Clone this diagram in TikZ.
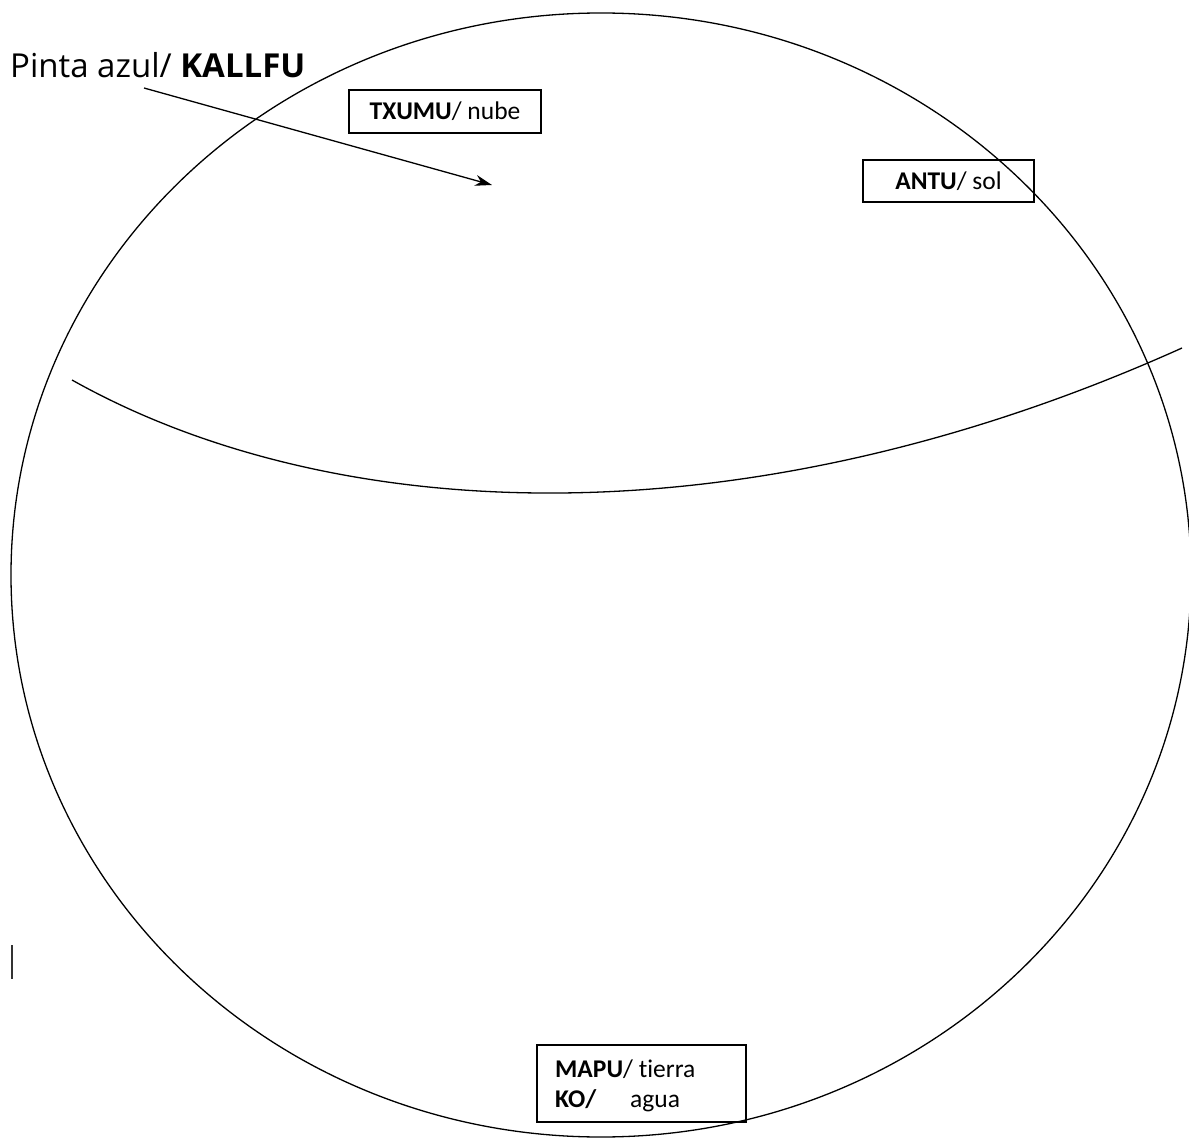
\documentclass[tikz,border=0pt]{standalone}
\usepackage{fontspec}
\setmainfont{Carlito}[Ligatures={NoCommon,NoRare,NoDiscretionary}]
\newfontfamily\handfont{Open Sans}
\usetikzlibrary{arrows.meta}
\tikzset{
  line/.style={draw=black, line width=1.3pt},
  labelbox/.style={draw=black, line width=1.5pt, inner sep=0pt, font=\fontsize{25.5}{30}\selectfont},
}
\begin{document}
\begin{tikzpicture}[x=1pt,y=-1pt]
\useasboundingbox (0,0) rectangle (1189,1139);
% globe
\draw[line] (601,575) ellipse [x radius=590, y radius=562];
% horizon curve
\coordinate (h0) at (72,380);
\coordinate (h1) at (1182,348);
\draw[line] (h0) .. controls (332,526) and (742,546) .. (h1);
% title and arrow
\node[anchor=base west, inner sep=0pt, font=\handfont\fontsize{33}{36}\selectfont] (title) at (10,78) {Pinta azul/ \textbf{KALLFU}};
\coordinate (a0) at (144,88);
\coordinate (a1) at (492,185);
\draw[line, -{Stealth[length=17pt,width=11pt]}] (a0) -- (a1);
% boxes
\node[labelbox, minimum width=192pt, minimum height=43pt] (txumu) at (445,111.5) {\textbf{TXUMU}/ nube};
\node[labelbox, minimum width=171pt, minimum height=42pt] (antu) at (948.5,181) {\textbf{ANTU}/ sol};
\node[labelbox, minimum width=209pt, minimum height=77pt] (mapu) at (641.5,1083.5) {};
\node[anchor=base west, inner sep=0pt, font=\fontsize{25.5}{30}\selectfont] (mapuT) at (555,1077) {\textbf{MAPU}/ tierra};
\node[anchor=base west, inner sep=0pt, font=\fontsize{25.5}{30}\selectfont] (koT) at (555,1107) {\textbf{KO/}};
\node[anchor=base west, inner sep=0pt, font=\fontsize{25.5}{30}\selectfont] (aguaT) at (630,1107) {agua};
% cursor mark
\coordinate (c0) at (12,945);
\coordinate (c1) at (12,979);
\draw[line width=1.6pt, black!80] (c0) -- (c1);
\end{tikzpicture}
\end{document}
